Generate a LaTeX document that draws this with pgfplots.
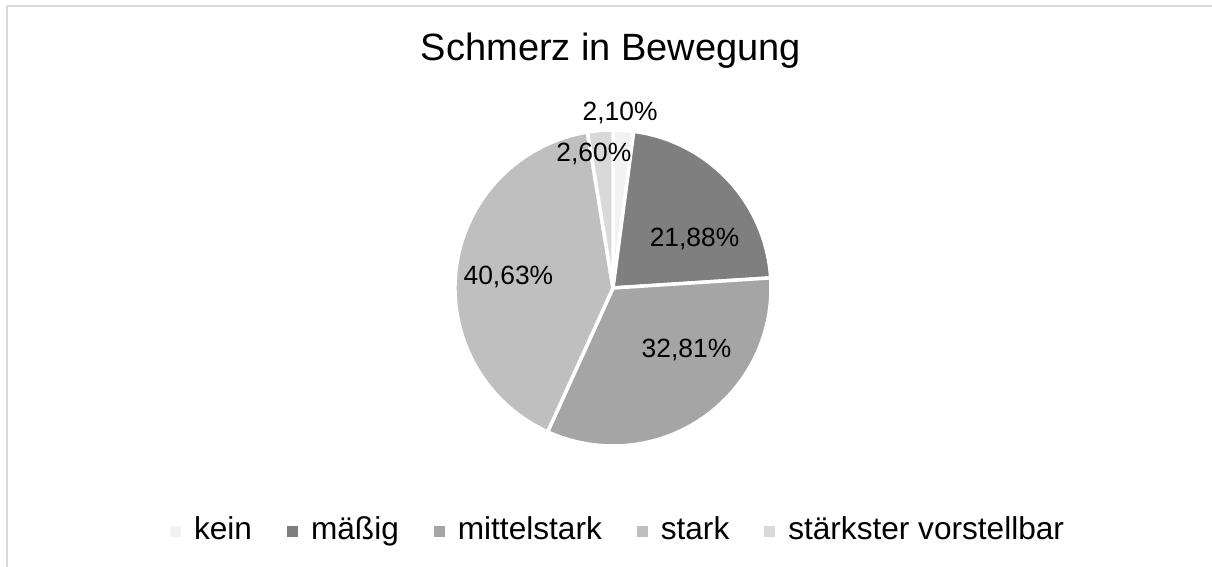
\documentclass[border=0pt]{standalone}
\usepackage{pgfplots}
\pgfplotsset{compat=1.18}
\usepackage{pgfplotstable}
\usepackage{fontspec}
\setmainfont{Liberation Sans}

\definecolor{c0}{HTML}{F2F2F2}
\definecolor{c1}{HTML}{7F7F7F}
\definecolor{c2}{HTML}{A5A5A5}
\definecolor{c3}{HTML}{BFBFBF}
\definecolor{c4}{HTML}{D9D9D9}
\definecolor{frame}{HTML}{D9D9D9}

% value = share in percent; lx, ly = label position (pie radius = 1)
\pgfplotstableread{
value lx     ly
2.10  0.045  1.060
21.88 0.516  0.261
32.81 0.465  -0.439
40.63 -0.662 0.019
2.60  -0.121 0.800
}\piedata

\def\cum{0}
\pgfplotsforeachungrouped \i in {0,...,4}{%
  \pgfplotstablegetelem{\i}{value}\of\piedata \let\v\pgfplotsretval
  \pgfmathsetmacro\s{90-3.6*\cum}%
  \pgfmathsetmacro\cum{\cum+\v}%
  \pgfmathsetmacro\e{90-3.6*\cum}%
  \expandafter\xdef\csname sA\i\endcsname{\s}%
  \expandafter\xdef\csname eA\i\endcsname{\e}%
  \expandafter\xdef\csname val\i\endcsname{\v}%
  \pgfplotstablegetelem{\i}{lx}\of\piedata
  \expandafter\xdef\csname lx\i\endcsname{\pgfplotsretval}%
  \pgfplotstablegetelem{\i}{ly}\of\piedata
  \expandafter\xdef\csname ly\i\endcsname{\pgfplotsretval}%
}

\begin{document}
\begin{tikzpicture}
\path[use as bounding box] (0pt,0pt) rectangle (606pt,-283.5pt);
\draw[frame, line width=0.75pt] (3.5pt,-3pt) -- (3.5pt,-320pt);
\draw[frame, line width=0.75pt] (3.5pt,-3pt) -- (640pt,-3pt);
\node[anchor=base, font=\fontsize{19}{22}\selectfont] at (305.5pt,-30.5pt) {Schmerz in Bewegung};
\begin{axis}[
  hide axis,
  scale only axis,
  x=79pt, y=79pt,
  xmin=-1.2, xmax=1.2, ymin=-1.2, ymax=1.2,
  at={(306.5pt,-144pt)}, anchor=origin,
  clip=false,
  legend image code/.code={\fill[#1] (0pt,1.25pt) rectangle (5.5pt,6.75pt);},
  legend style={draw=none, fill=none, inner sep=0pt, outer sep=0pt,
    legend columns=-1,
    at={(-0.668,-0.138)}, anchor=west,
    font=\fontsize{15.8}{18}\selectfont,
    cells={anchor=base west, inner sep=0pt},
    /tikz/every odd column/.append style={column sep=4.5pt},
    /tikz/every even column/.append style={column sep=15.5pt}},
]
\pgfplotsinvokeforeach{0,...,4}{
  \fill[fill=c#1, draw=white, line width=1.75pt]
    (axis cs:0,0) -- ++(\csname sA#1\endcsname:79pt)
    arc[start angle=\csname sA#1\endcsname, end angle=\csname eA#1\endcsname, radius=79pt] -- cycle;
}
\pgfplotsinvokeforeach{0,...,4}{
  \node[anchor=base, font=\fontsize{13.2}{15}\selectfont]
    at (axis cs:\csname lx#1\endcsname,\csname ly#1\endcsname)
    {\pgfmathprintnumber[fixed, fixed zerofill, precision=2, use comma, assume math mode=true]{\csname val#1\endcsname}\%};
}
\addlegendimage{fill=c0, draw=none}\addlegendentry{kein}
\addlegendimage{fill=c1, draw=none}\addlegendentry{mäßig}
\addlegendimage{fill=c2, draw=none}\addlegendentry{mittelstark}
\addlegendimage{fill=c3, draw=none}\addlegendentry{stark}
\addlegendimage{fill=c4, draw=none}\addlegendentry{stärkster vorstellbar}
\end{axis}
\end{tikzpicture}
\end{document}
